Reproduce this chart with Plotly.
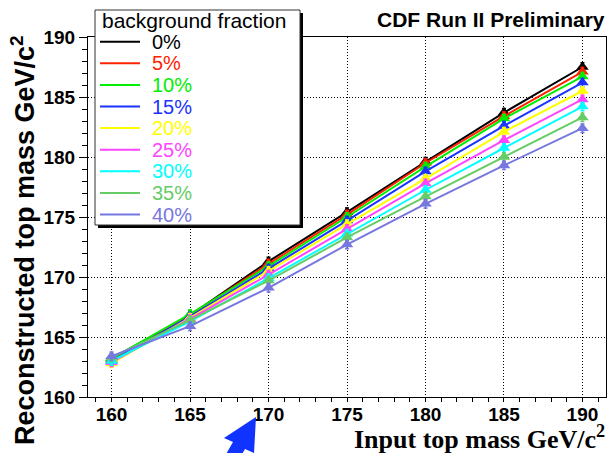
import plotly.graph_objects as go

# ---------------- data ----------------
input_mass = [160, 165, 170, 175, 180, 185, 190]
fractions = ["0%", "5%", "10%", "15%", "20%", "25%", "30%", "35%", "40%"]
colors = ["#000000", "#ff2200", "#00ee00", "#1a33ff", "#ffff00",
          "#ff44ff", "#00ffff", "#66cc66", "#7777e0"]

reco_0 = [163.2, 166.8, 171.3, 175.4, 179.6, 183.7, 187.5]
reco_5 = [163.1, 166.8, 171.1, 175.2, 179.5, 183.4, 187.1]
reco_10 = [163.2, 166.9, 170.9, 175.0, 179.2, 183.2, 186.7]
reco_15 = [163.0, 166.7, 170.7, 174.7, 178.8, 182.6, 186.2]
reco_20 = [162.8, 166.6, 170.5, 174.4, 178.2, 182.1, 185.5]
reco_25 = [162.9, 166.5, 170.2, 174.0, 177.8, 181.4, 184.8]
reco_30 = [163.0, 166.3, 169.9, 173.6, 177.25, 180.75, 184.2]
reco_35 = [163.3, 166.4, 169.7, 173.3, 176.7, 180.0, 183.3]
reco_40 = [163.4, 165.9, 169.1, 172.7, 176.1, 179.3, 182.4]
reco_err = [0.35, 0.35, 0.35, 0.35, 0.35, 0.35, 0.35]

series = [reco_0, reco_5, reco_10, reco_15, reco_20, reco_25, reco_30, reco_35, reco_40]

x_ticks = [160, 165, 170, 175, 180, 185, 190]
y_ticks = [160, 165, 170, 175, 180, 185, 190]

# ---------------- layout geometry ----------------
W, H = 609, 453
ML, MR, MT, MB = 88, 3, 37, 56
PW, PH = W - ML - MR, H - MT - MB


def px(xp):
    return (xp - ML) / PW


def py(yp):
    return (H - MB - yp) / PH


fig = go.Figure()

for vals, col in zip(series, colors):
    fig.add_trace(go.Scatter(
        x=input_mass, y=vals, mode="lines+markers",
        line=dict(color=col, width=2),
        marker=dict(symbol="triangle-up", size=11, color=col),
        error_y=dict(type="data", array=reco_err, color=col, thickness=1.5, width=2),
        showlegend=False, hoverinfo="x+y",
    ))

axis_font = dict(family="Liberation Sans, Arial, sans-serif", size=19, color="black", weight="bold")

fig.update_xaxes(
    range=[158.5, 191.5], tickvals=x_ticks, ticktext=[str(v) for v in x_ticks],
    showgrid=True, gridcolor="black", gridwidth=1, griddash="1px,2px",
    showline=True, linecolor="black", linewidth=1, mirror=True,
    ticks="", tickfont=axis_font, zeroline=False,
    minor=dict(dtick=1, ticks="outside", ticklen=4, tickcolor="black", showgrid=False),
)
fig.update_yaxes(
    range=[160, 190], tickvals=y_ticks, ticktext=[str(v) for v in y_ticks],
    showgrid=True, gridcolor="black", gridwidth=1, griddash="1px,2px",
    showline=True, linecolor="black", linewidth=1, mirror=True,
    ticks="outside", ticklen=8, tickcolor="black", tickfont=axis_font, zeroline=False,
    minor=dict(dtick=1, ticks="outside", ticklen=5, tickcolor="black", showgrid=False),
)

shapes = []
annotations = []

# ----- manual legend (ROOT style) -----
box_l, box_t, box_r, box_b = 95, 10, 300, 225
shapes.append(dict(type="rect", xref="paper", yref="paper",
                   x0=px(box_l + 3), x1=px(box_r + 3), y0=py(box_b + 3), y1=py(box_t + 3),
                   fillcolor="black", line=dict(width=0), layer="above"))
shapes.append(dict(type="rect", xref="paper", yref="paper",
                   x0=px(box_l), x1=px(box_r), y0=py(box_b), y1=py(box_t),
                   fillcolor="white", line=dict(color="#333333", width=1), layer="above"))
annotations.append(dict(text="background fraction", xref="paper", yref="paper",
                        x=px(100), y=py(21), xanchor="left", yanchor="middle",
                        showarrow=False,
                        font=dict(family="Liberation Sans, Arial", size=21, color="black")))
row0, row_step = 41.7, 21.6
for i, (name, col) in enumerate(zip(fractions, colors)):
    yr = row0 + i * row_step
    shapes.append(dict(type="line", xref="paper", yref="paper",
                       x0=px(100), x1=px(140), y0=py(yr), y1=py(yr),
                       line=dict(color=col, width=2), layer="above"))
    annotations.append(dict(text=name, xref="paper", yref="paper",
                            x=px(150), y=py(yr), xanchor="left", yanchor="middle",
                            showarrow=False,
                            font=dict(family="Liberation Sans, Arial", size=20, color=col)))

# ----- titles -----
annotations.append(dict(text="CDF Run II Preliminary", xref="paper", yref="paper",
                        x=px(607), y=py(20), xanchor="right", yanchor="middle", showarrow=False,
                        font=dict(family="Liberation Sans, Arial", size=21, color="black", weight="bold")))
annotations.append(dict(text="Input top mass GeV/c<sup>2</sup>", xref="paper", yref="paper",
                        x=px(607), y=py(437), xanchor="right", yanchor="middle", showarrow=False,
                        font=dict(family="Liberation Serif, Times New Roman, serif", size=26,
                                  color="black", weight="bold")))
annotations.append(dict(text="Reconstructed top mass GeV/c<sup>2</sup>", xref="paper", yref="paper",
                        x=px(23), y=py(240), xanchor="center", yanchor="middle", showarrow=False,
                        textangle=-90,
                        font=dict(family="Liberation Sans, Arial", size=27, color="black", weight="bold")))

# ----- blue arrow decoration -----
arrow_pts = [(256, 417), (254, 453), (245, 449), (225, 484), (213, 477), (233, 442), (224, 438)]
path = "M " + " L ".join(f"{px(a):.4f},{py(b):.4f}" for a, b in arrow_pts) + " Z"
shapes.append(dict(type="path", xref="paper", yref="paper", path=path,
                   fillcolor="#1133ff", line=dict(width=0), layer="above"))

fig.update_layout(
    width=W, height=H,
    margin=dict(l=ML, r=MR, t=MT, b=MB),
    paper_bgcolor="white", plot_bgcolor="white",
    showlegend=False,
    shapes=shapes, annotations=annotations,
)

fig.write_html("out.html")
